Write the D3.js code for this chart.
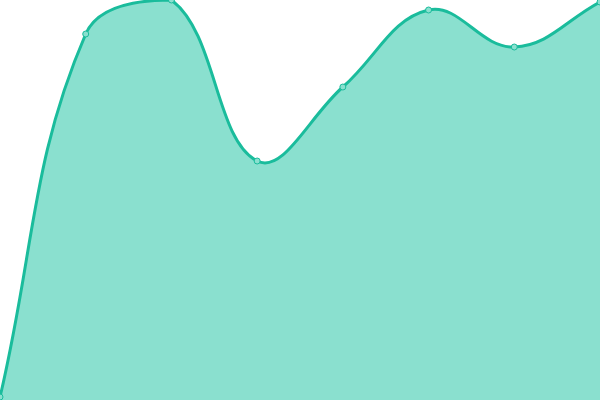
<!DOCTYPE html>
<html><head><meta charset="utf-8">
<script src="https://cdn.jsdelivr.net/npm/d3@7"></script>
<style>html,body{margin:0;padding:0;background:#fff;overflow:hidden}</style>
</head><body>
<svg id="c" width="600" height="400"></svg>
<script>
const categories = ["A","B","C","D","E","F","G","H"];
const values = [3, 366, 400, 239, 313, 390, 353, 398];

const W = 600, H = 400;
const svg = d3.select("#c");
const x = d3.scalePoint().domain(categories).range([0, W]);
const y = d3.scaleLinear().domain([0, 400]).range([H, 0]);
const data = categories.map((c, i) => ({c, v: values[i]}));

// Spline with tension 0.4, control points capped to the plot area
function Spline(context) { this._context = context; this._t = 0.4; }
Spline.prototype = {
  areaStart() { this._line = 0; },
  areaEnd() { this._line = NaN; },
  lineStart() { this._p = []; },
  point(px, py) { this._p.push([+px, +py]); },
  lineEnd() {
    const p = this._p, n = p.length, t = this._t, c = this._context;
    if (n) {
      const cap = q => [Math.min(Math.max(q[0], 0), W), Math.min(Math.max(q[1], 0), H)];
      const cin = [], cout = [];
      for (let i = 0; i < n; i++) {
        const pr = p[Math.max(i - 1, 0)], nx = p[Math.min(i + 1, n - 1)], pt = p[i];
        const d01 = Math.hypot(pt[0]-pr[0], pt[1]-pr[1]);
        const d12 = Math.hypot(nx[0]-pt[0], nx[1]-pt[1]);
        let s01 = d01 / (d01 + d12), s12 = d12 / (d01 + d12);
        if (isNaN(s01)) s01 = 0; if (isNaN(s12)) s12 = 0;
        const fa = t * s01, fb = t * s12;
        cin[i] = cap([pt[0] - fa * (nx[0]-pr[0]), pt[1] - fa * (nx[1]-pr[1])]);
        cout[i] = cap([pt[0] + fb * (nx[0]-pr[0]), pt[1] + fb * (nx[1]-pr[1])]);
      }
      if (this._line) c.lineTo(p[0][0], p[0][1]); else c.moveTo(p[0][0], p[0][1]);
      for (let i = 1; i < n; i++) {
        c.bezierCurveTo(cout[i-1][0], cout[i-1][1], cin[i][0], cin[i][1], p[i][0], p[i][1]);
      }
    }
    if (this._line || (this._line !== 0 && n === 1)) c.closePath();
    this._line = 1 - this._line;
  }
};
const curve = ctx => new Spline(ctx);

svg.append("path").datum(data)
  .attr("fill", "#8ae0cf")
  .attr("d", d3.area().x(d => x(d.c)).y0(H).y1(d => y(d.v)).curve(curve));
svg.append("path").datum(data)
  .attr("fill", "none").attr("stroke", "#1abc9c").attr("stroke-width", 3)
  .attr("stroke-linejoin", "round")
  .attr("d", d3.line().x(d => x(d.c)).y(d => y(d.v)).curve(curve));
svg.selectAll("circle").data(data).join("circle")
  .attr("cx", d => x(d.c)).attr("cy", d => y(d.v)).attr("r", 3)
  .attr("fill", "#8ae0cf").attr("stroke", "#1abc9c").attr("stroke-width", 1);
</script>
</body></html>
